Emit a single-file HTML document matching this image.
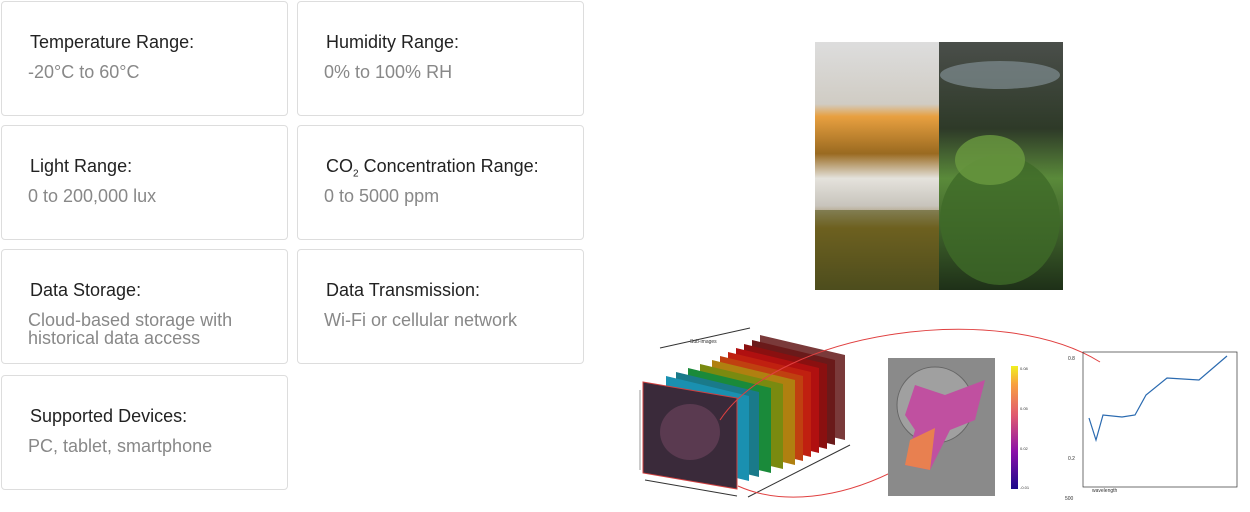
<!DOCTYPE html>
<html><head><meta charset="utf-8"><style>
body{margin:0;width:1250px;height:512px;background:#fff;position:relative;overflow:hidden;font-family:"Liberation Sans",Arial,sans-serif}
.c{position:absolute;border:1px solid #ddd;border-radius:4px;box-sizing:border-box}
.t{position:absolute;left:28px;top:30px;font-size:18px;color:#222}
.v{position:absolute;left:26px;top:61px;font-size:18px;color:#888;line-height:18px}
</style></head><body>
<div class="c" style="left:1px;top:1px;width:287px;height:115px"><div class="t">Temperature Range:</div><div class="v">-20°C to 60°C</div></div>
<div class="c" style="left:297px;top:1px;width:287px;height:115px"><div class="t">Humidity Range:</div><div class="v">0% to 100% RH</div></div>
<div class="c" style="left:1px;top:125px;width:287px;height:115px"><div class="t">Light Range:</div><div class="v">0 to 200,000 lux</div></div>
<div class="c" style="left:297px;top:125px;width:287px;height:115px"><div class="t">CO<sub style="font-size:10px">2</sub> Concentration Range:</div><div class="v">0 to 5000 ppm</div></div>
<div class="c" style="left:1px;top:249px;width:287px;height:115px"><div class="t">Data Storage:</div><div class="v">Cloud-based storage with<br>historical data access</div></div>
<div class="c" style="left:297px;top:249px;width:287px;height:115px"><div class="t">Data Transmission:</div><div class="v">Wi-Fi or cellular network</div></div>
<div class="c" style="left:1px;top:375px;width:287px;height:115px"><div class="t">Supported Devices:</div><div class="v">PC, tablet, smartphone</div></div>

<svg style="position:absolute;left:0;top:0" width="1250" height="512">
<defs>
<linearGradient id="lamp" x1="0" y1="0" x2="0" y2="1"><stop offset="0" stop-color="#ddd"/><stop offset=".25" stop-color="#d0ccc4"/><stop offset=".3" stop-color="#e8a040"/><stop offset=".45" stop-color="#9a6a20"/><stop offset=".55" stop-color="#e4e2dc"/><stop offset=".66" stop-color="#c8c4bc"/><stop offset=".75" stop-color="#8a6a20"/><stop offset="1" stop-color="#3a3a1a"/></linearGradient>
<linearGradient id="gr" x1="0" y1="0" x2="0" y2="1"><stop offset="0" stop-color="#4a4e4a"/><stop offset=".35" stop-color="#2e3a28"/><stop offset=".55" stop-color="#5a8a3a"/><stop offset="1" stop-color="#1e3018"/></linearGradient>
<linearGradient id="cb" x1="0" y1="1" x2="0" y2="0"><stop offset="0" stop-color="#1a0a8a"/><stop offset=".3" stop-color="#8a10a8"/><stop offset=".6" stop-color="#e05a70"/><stop offset=".85" stop-color="#f8a040"/><stop offset="1" stop-color="#f0f020"/></linearGradient>
</defs>
<rect x="815" y="42" width="124" height="248" fill="url(#lamp)"/>
<rect x="815" y="210" width="124" height="80" fill="#5a5a20" opacity=".6"/>
<rect x="939" y="42" width="124" height="248" fill="url(#gr)"/>
<ellipse cx="1000" cy="220" rx="60" ry="65" fill="#3f6a28" opacity=".8"/>
<ellipse cx="990" cy="160" rx="35" ry="25" fill="#6a9a40" opacity=".8"/>
<ellipse cx="1000" cy="75" rx="60" ry="14" fill="#8a9aa0" opacity=".6"/>
<g>
<polygon points="760,335 845,355 845,440 760,420" fill="#7a3a3a"/>
<polygon points="752,340 835,360 835,445 752,425" fill="#6a1a1a"/>
<polygon points="744,344 827,364 827,449 744,429" fill="#8a1010"/>
<polygon points="736,348 819,368 819,453 736,433" fill="#b01010"/>
<polygon points="728,352 811,372 811,457 728,437" fill="#c02010"/>
<polygon points="720,356 803,376 803,461 720,441" fill="#c04010"/>
<polygon points="712,360 795,380 795,465 712,445" fill="#b08010"/>
<polygon points="700,364 783,384 783,469 700,449" fill="#7a8a10"/>
<polygon points="688,368 771,388 771,473 688,453" fill="#1a8a3a"/>
<polygon points="676,372 759,392 759,477 676,457" fill="#1a7a8a"/>
<polygon points="666,376 749,396 749,481 666,461" fill="#1a90b0"/>
<polygon points="643,382 737,398 737,489 643,473" fill="#3a2a3a" stroke="#d04040"/>
<ellipse cx="690" cy="432" rx="30" ry="28" fill="#5a3a50"/>
</g>
<line x1="660" y1="348" x2="750" y2="328" stroke="#333"/>
<text x="690" y="343" font-size="5" fill="#333">Sub-images</text>
<line x1="748" y1="497" x2="850" y2="445" stroke="#333"/>
<line x1="645" y1="480" x2="737" y2="496" stroke="#333"/>
<line x1="640" y1="390" x2="640" y2="470" stroke="#999"/>
<path d="M720,420 C780,330 1000,300 1100,362" fill="none" stroke="#e04040"/>
<path d="M738,486 C780,505 840,500 900,468" fill="none" stroke="#e04040"/>
<rect x="888" y="358" width="107" height="138" fill="#8a8a8a"/>
<circle cx="935" cy="405" r="38" fill="#a0a0a0" stroke="#666"/>
<path d="M915,385 L945,395 L985,380 L975,420 L950,430 L930,470 L905,465 L915,430 L905,415 Z" fill="#c050a0"/>
<path d="M910,440 L935,428 L930,470 L905,465 Z" fill="#e88050"/>
<rect x="1011" y="366" width="7" height="123" fill="url(#cb)"/>
<g font-size="4" fill="#333"><text x="1020" y="370">0.08</text><text x="1020" y="410">0.05</text><text x="1020" y="450">0.02</text><text x="1020" y="489">-0.01</text></g>
<rect x="1083" y="352" width="154" height="135" fill="none" stroke="#333" stroke-width=".7"/>
<polyline points="1089,418 1096,440 1103,415 1122,417 1135,415 1146,395 1167,378 1199,380 1227,356" fill="none" stroke="#2a6ab0" stroke-width="1.2"/>
<g font-size="5" fill="#333"><text x="1065" y="500">500</text><text x="1092" y="492">wavelength</text><text x="1068" y="360">0.8</text><text x="1068" y="460">0.2</text></g>
</svg>
</body></html>
